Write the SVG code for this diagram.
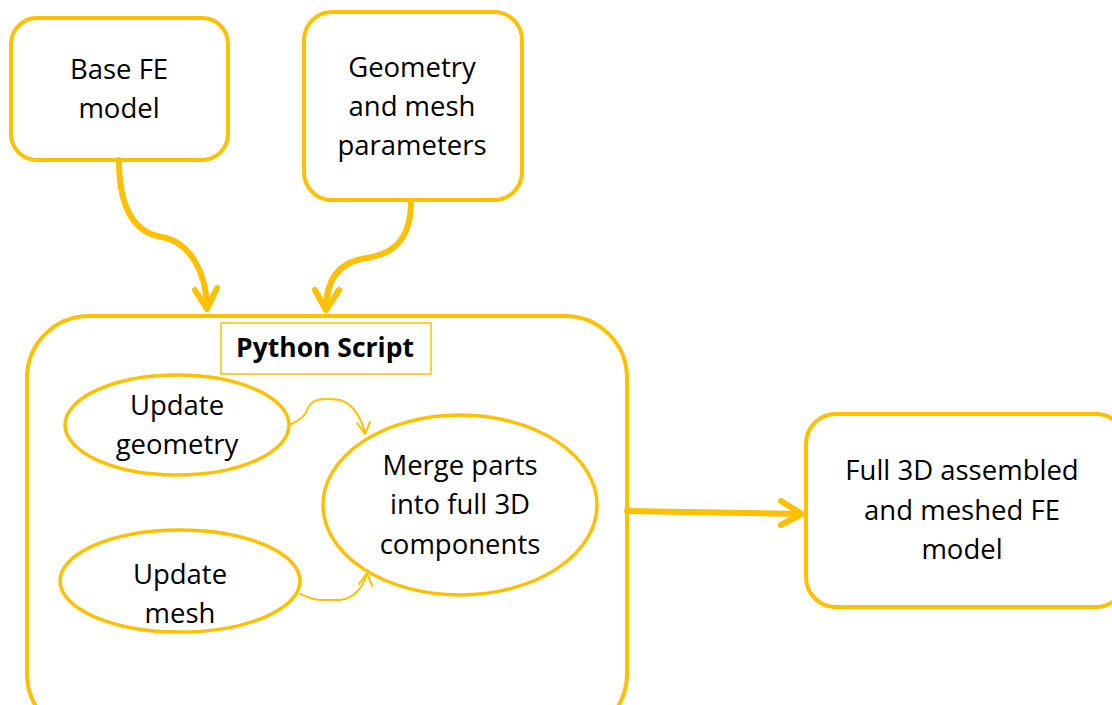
<svg xmlns="http://www.w3.org/2000/svg" width="1112" height="705" viewBox="0 0 1112 705">
  <style>
    .box { fill: #ffffff; stroke: #FFC000; stroke-width: 4; }
    .oval { fill: #ffffff; stroke: #FFC000; stroke-width: 3.5; }
    .label { fill: none; stroke: #FFC000; stroke-width: 1.5; }
    .txt { font-family: "Open Sans", "Liberation Sans", sans-serif; font-size: 27.5px; fill: #000000; text-anchor: middle; }
    .bold { font-weight: bold; font-size: 26.5px; }
    .thick { fill: none; stroke: #FFC000; stroke-width: 6; stroke-linecap: round; stroke-linejoin: round; }
    .thin { fill: none; stroke: #FFC000; stroke-width: 2; stroke-linecap: round; stroke-linejoin: round; }
  </style>
  <rect width="1112" height="705" fill="#ffffff"/>

  <g id="base-fe-model">
    <rect class="box" x="11" y="18" width="217" height="142" rx="26"/>
    <text class="txt" x="119" y="79">Base FE</text>
    <text class="txt" x="119" y="118">model</text>
  </g>

  <g id="geometry-mesh-parameters">
    <rect class="box" x="304" y="12" width="218" height="188" rx="28"/>
    <text class="txt" x="412" y="77">Geometry</text>
    <text class="txt" x="412" y="116">and mesh</text>
    <text class="txt" x="412" y="155">parameters</text>
  </g>

  <g id="python-script">
    <rect class="box" x="27" y="316" width="600" height="420" rx="62"/>
    <rect class="label" x="221" y="323" width="210" height="51"/>
    <text class="txt bold" x="325" y="357">Python Script</text>
  </g>

  <g id="update-geometry">
    <ellipse class="oval" cx="177" cy="425" rx="112" ry="50"/>
    <text class="txt" x="177" y="415">Update</text>
    <text class="txt" x="177" y="454">geometry</text>
  </g>

  <g id="update-mesh">
    <ellipse class="oval" cx="180" cy="581" rx="120" ry="51"/>
    <text class="txt" x="180" y="584">Update</text>
    <text class="txt" x="180" y="623">mesh</text>
  </g>

  <g id="merge-parts">
    <ellipse class="oval" cx="460" cy="505" rx="137" ry="90"/>
    <text class="txt" x="460" y="475">Merge parts</text>
    <text class="txt" x="460" y="514">into full 3D</text>
    <text class="txt" x="460" y="554">components</text>
  </g>

  <g id="full-3d-model">
    <rect class="box" x="806" y="414" width="320" height="193" rx="30"/>
    <text class="txt" x="962" y="480">Full 3D assembled</text>
    <text class="txt" x="962" y="520">and meshed FE</text>
    <text class="txt" x="962" y="559">model</text>
  </g>

  <g id="connectors">
    <!-- Base FE model into the script -->
    <path class="thick" d="M119,160 C119,200 130,232 162,237 C190,242 206,272 207,307"/>
    <path class="thick" d="M195,290 L207,309 L217,288"/>
    <!-- parameters into the script -->
    <path class="thick" d="M411,201 C411,238 395,254 366,258 C340,262 326,278 326,309"/>
    <path class="thick" d="M315,290 L326,310 L339,290"/>
    <!-- script output to the full model -->
    <path class="thick" d="M627,511 L801,514"/>
    <path class="thick" d="M781,501 L802,514 L781,525"/>
    <!-- geometry update to merge -->
    <path class="thin" d="M291,424 C302,420 306,414 308,408 C312,398 325,398 340,400 C354,404 362,420 365,433"/>
    <path class="thin" d="M357,423 L365,434 L370,422"/>
    <!-- mesh update to merge -->
    <path class="thin" d="M300,594 C308,596 310,600 320,600 L340,600 C355,598 362,588 367,574"/>
    <path class="thin" d="M359,584 L367,573 L372,586"/>
  </g>
</svg>
